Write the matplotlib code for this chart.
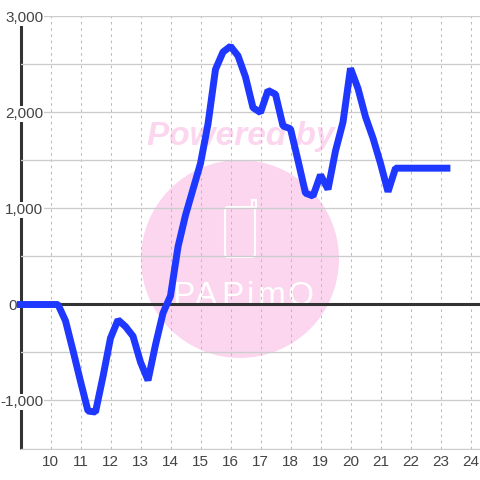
import matplotlib
matplotlib.use("Agg")
import matplotlib.pyplot as plt
from matplotlib.patches import Circle, FancyBboxPatch, Rectangle
from matplotlib.transforms import ScaledTranslation

hours = [8.88, 9, 10, 10.25, 10.5, 10.75, 11, 11.25, 11.5, 11.75, 12, 12.25, 12.5, 12.75, 13, 13.25,
         13.5, 13.75, 14, 14.25, 14.5, 14.75, 15, 15.25, 15.5, 15.75, 16, 16.25, 16.5, 16.75,
         17, 17.25, 17.5, 17.75, 18, 18.25, 18.5, 18.75, 19, 19.25, 19.5, 19.75, 20, 20.25,
         20.5, 20.75, 21, 21.25, 21.5, 22, 22.5, 23, 23.33]
values = [0, 0, 0, 0, -170, -480, -800, -1110, -1120, -750, -350, -160, -230, -330, -600, -790,
          -420, -90, 90, 600, 930, 1200, 1470, 1880, 2450, 2630, 2690, 2590, 2370, 2050,
          2000, 2230, 2190, 1860, 1830, 1500, 1160, 1130, 1350, 1200, 1600, 1900, 2460, 2250,
          1955, 1733, 1470, 1175, 1420, 1420, 1420, 1420, 1420]
x_ticks = list(range(10, 25))
y_major = [-1000, 0, 1000, 2000, 3000]
y_minor = [-1500, -500, 500, 1500, 2500]
y_labels = ["-1,000", "0", "1,000", "2,000", "3,000"]
logo_letters = ["P", "A", "P", "i", "m", "O"]

plt.rcParams["font.family"] = ["Liberation Sans", "DejaVu Sans"]
W = 480
fig = plt.figure(figsize=(4.8, 4.8), dpi=100, facecolor="white")
ax = fig.add_axes([20.5 / W, 1 - 448.5 / W, (W - 20.5) / W, 432 / W])
ax.set_xlim(9, 9 + (W - 20.5) / 30)
ax.set_ylim(-1500, 3000)
ax.set_axisbelow("line")

for s in ("top", "right"):
    ax.spines[s].set_visible(False)
ax.spines["left"].set(linewidth=2.2, color="#333333", zorder=1, capstyle="butt")
ax.spines["bottom"].set(linewidth=0.75, color="#cccccc", zorder=1)


def px(x, y):
    return (x / W, 1 - y / W)


fig_t = fig.transFigure
pink = "#fcd6ee"
ax.add_patch(Circle((240, W - 259), 99, transform=None, facecolor=pink, edgecolor="none", zorder=0.5, clip_on=False))
ax.add_patch(FancyBboxPatch(px(225, 257), 30 / W, 50 / W, boxstyle="round,pad=0,rounding_size=0.006",
                            transform=fig_t, facecolor="none", edgecolor="white", linewidth=1.5, zorder=0.6))
ax.add_patch(Rectangle(px(252, 208), 3.5 / W, 8 / W, transform=fig_t, facecolor="none", edgecolor="white",
                       linewidth=1.5, zorder=0.6))
ax.text(*px(241, 145), "Powered by", transform=fig_t, ha="center", va="baseline", color=pink,
        fontsize=24, fontweight="bold", fontstyle="italic", zorder=0.6)
for ch, cx in zip(logo_letters, [183, 206, 232, 250, 272, 300]):
    ax.text(*px(cx, 305), ch, transform=fig_t, ha="center", va="baseline", color="white",
            fontsize=24, zorder=0.6)

ax.set_xticks(x_ticks)
ax.set_yticks(y_major)
ax.set_yticklabels(y_labels)
ax.set_yticks(y_minor, minor=True)
ax.grid(True, axis="x", color="#bbbbbb", linewidth=0.75, linestyle=(0, (2.5, 3.5)))
ax.grid(True, axis="y", which="both", color="#cccccc", linewidth=0.95, linestyle="-")
ax.tick_params(axis="both", which="both", length=0)
ax.tick_params(axis="x", labelsize=11, labelcolor="#444444", pad=5)
ax.tick_params(axis="y", labelsize=11, labelcolor="#444444", pad=-16.5)
for lab in ax.get_yticklabels():
    lab.set_bbox(dict(facecolor="white", edgecolor="none", pad=0.8))
    if lab.get_text() == "0":
        lab.set_bbox(None)
        lab.set_transform(lab.get_transform() + ScaledTranslation(-27 / 100, 0, fig.dpi_scale_trans))

ax.axhline(0, color="#333333", linewidth=2.2, zorder=1.6)
ax.plot(hours, values, color="#1f38ff", linewidth=5, solid_joinstyle="bevel", solid_capstyle="butt",
        zorder=3, clip_on=False)

fig.savefig("out.png", dpi=100)
